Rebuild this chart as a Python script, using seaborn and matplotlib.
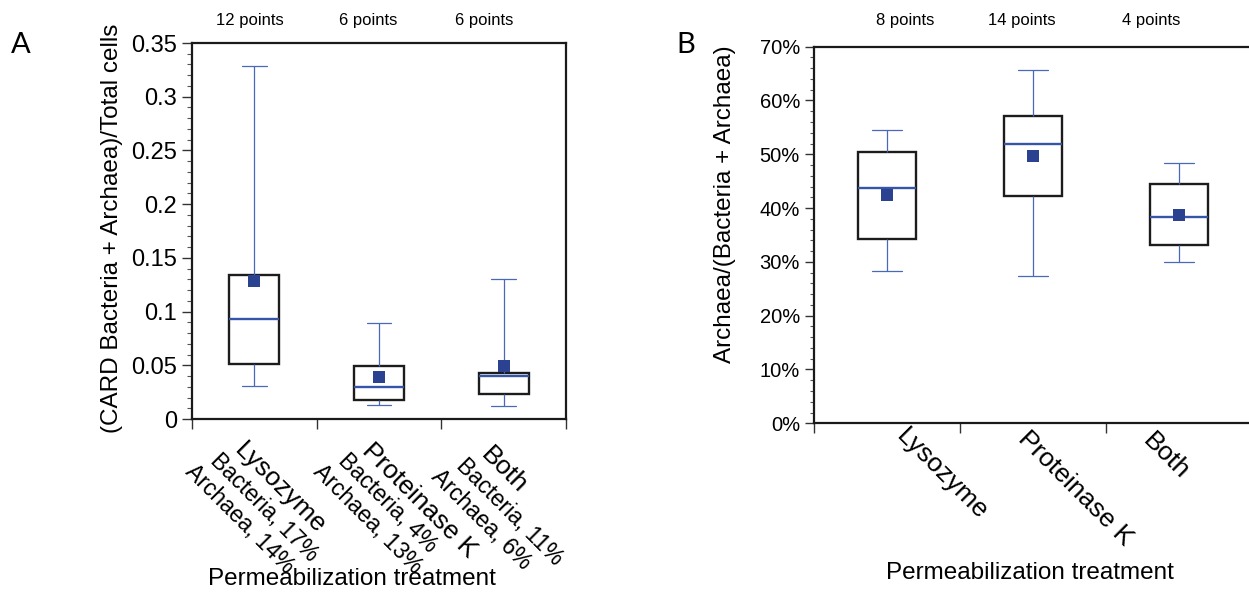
import numpy as np
import pandas as pd
import matplotlib
matplotlib.use("Agg")
import matplotlib.pyplot as plt
from matplotlib.ticker import FixedLocator, FuncFormatter, PercentFormatter, MultipleLocator
import seaborn as sns

# ---------------- data ----------------
# Panel A
a_categories = ["Lysozyme", "Proteinase K", "Both"]
a_sublabels = [["Bacteria, 17%", "Archaea, 14%"],
               ["Bacteria, 4%", "Archaea, 13%"],
               ["Bacteria, 11%", "Archaea, 6%"]]
a_whisker_low = [0.0304, 0.0127, 0.0124]
a_q1 = [0.051, 0.018, 0.0233]
a_median = [0.0934, 0.030, 0.0403]
a_q3 = [0.134, 0.049, 0.043]
a_whisker_high = [0.329, 0.0897, 0.1306]
a_mean = [0.1286, 0.039, 0.0497]
a_counts = ["12 points", "6 points", "6 points"]
a_yticks = [0, 0.05, 0.1, 0.15, 0.2, 0.25, 0.3, 0.35]

# Panel B
b_categories = ["Lysozyme", "Proteinase K", "Both"]
b_whisker_low = [0.284, 0.274, 0.299]
b_q1 = [0.343, 0.422, 0.331]
b_median = [0.438, 0.519, 0.384]
b_q3 = [0.504, 0.572, 0.445]
b_whisker_high = [0.545, 0.657, 0.484]
b_mean = [0.424, 0.497, 0.388]
b_counts = ["8 points", "14 points", "4 points"]
b_yticks = [0, 0.1, 0.2, 0.3, 0.4, 0.5, 0.6, 0.7]

# ---------------- style ----------------
sns.set_style("ticks")
plt.rcParams["font.family"] = ["Liberation Sans", "DejaVu Sans"]
plt.rcParams["text.color"] = "black"
plt.rcParams["axes.labelcolor"] = "black"
plt.rcParams["xtick.labelcolor"] = "black"
plt.rcParams["ytick.labelcolor"] = "black"

BOX_EDGE = "#1c1c1c"
WHISKER = "#4a68b8"
MEDIAN = "#3556a8"
MEAN = "#2b4291"
PX = 72 / 100.0  # pixels -> points


def long_frame(cats, lo, q1, med, q3, hi):
    rows = []
    for i, c in enumerate(cats):
        for v in (lo[i], q1[i], med[i], q3[i], hi[i]):
            rows.append({"treatment": c, "value": v})
    return pd.DataFrame(rows)


def draw_panel(ax, cats, lo, q1, med, q3, hi, means):
    df = long_frame(cats, lo, q1, med, q3, hi)
    sns.boxplot(data=df, x="treatment", y="value", order=cats, ax=ax,
                width=0.4, whis=(0, 100), color="white", linecolor=BOX_EDGE,
                linewidth=1.7, fliersize=0, saturation=1,
                whiskerprops=dict(color=WHISKER, linewidth=0.9),
                capprops=dict(color=WHISKER, linewidth=0.9),
                medianprops=dict(color=MEDIAN, linewidth=1.7))
    sns.pointplot(x=cats, y=means, order=cats, ax=ax, errorbar=None,
                  linestyle="none", marker="s", markersize=9.2,
                  markeredgewidth=0, color=MEAN, zorder=6)
    ax.set_xlim(-0.5, len(cats) - 0.5)
    ax.set_xticks(range(len(cats)))
    ax.set_xticklabels([])
    ax.xaxis.set_minor_locator(FixedLocator(np.arange(-0.5, len(cats), 1.0)))
    ax.tick_params(axis="x", which="major", length=0)
    ax.tick_params(axis="x", which="minor", length=7.5, width=1.0, color="#333333", direction="out")
    for s in ax.spines.values():
        s.set_linewidth(1.6)
        s.set_color("#1a1a1a")
        s.set_visible(True)
    ax.set_facecolor("white")


fig = plt.figure(figsize=(12.49, 5.97), dpi=100)
fig.patch.set_facecolor("white")

axA = fig.add_axes([192 / 1249, 1 - 419 / 597, 374 / 1249, 376 / 597])
axB = fig.add_axes([814 / 1249, 1 - 423.3 / 597, 438 / 1249, 376.6 / 597])

draw_panel(axA, a_categories, a_whisker_low, a_q1, a_median, a_q3, a_whisker_high, a_mean)
draw_panel(axB, b_categories, b_whisker_low, b_q1, b_median, b_q3, b_whisker_high, b_mean)

# ---- panel A axis ----
axA.set_ylim(0, 0.35)
axA.set_yticks(a_yticks)
axA.yaxis.set_major_formatter(FuncFormatter(lambda v, p: f"{v:g}"))
axA.yaxis.set_minor_locator(MultipleLocator(0.01))
axA.tick_params(axis="y", which="major", length=7, width=1.0, pad=3.6, labelsize=17, color="#333333")
axA.tick_params(axis="y", which="minor", length=3.6, width=0.8, color="#555555")
axA.set_ylabel("(CARD Bacteria + Archaea)/Total cells", fontsize=17.5)
axA.yaxis.set_label_coords(-0.184, 0.508)
axA.set_xlabel("Permeabilization treatment", fontsize=17.5)
axA.xaxis.set_label_coords(0.428, -0.396)

# ---- panel B axis ----
axB.set_ylim(0, 0.7)
axB.set_yticks(b_yticks)
axB.yaxis.set_major_formatter(PercentFormatter(1.0, decimals=0))
axB.yaxis.set_minor_locator(MultipleLocator(0.02))
axB.tick_params(axis="y", which="major", length=6.5, width=1.0, pad=3.6, labelsize=14.5, color="#333333")
axB.tick_params(axis="y", which="minor", length=3.0, width=0.8, color="#555555")
axB.set_ylabel("Archaea/(Bacteria + Archaea)", fontsize=17.5)
axB.yaxis.set_label_coords(-0.178, 0.583)
axB.set_xlabel("Permeabilization treatment", fontsize=17.5)
axB.xaxis.set_label_coords(0.493, -0.368)

# ---- rotated category labels ----
a_label_dx = [-7.5, -4.5, -10.5]   # px, anchor of first line
a_label_dy = [-19.5, -19.5, -24.0]
line_step = (-25.0, -11.0)         # px per following line
for i, cat in enumerate(a_categories):
    lines = [cat] + a_sublabels[i]
    for k, txt in enumerate(lines):
        dx = (a_label_dx[i] + k * line_step[0]) * PX
        dy = (a_label_dy[i] + k * line_step[1]) * PX
        axA.annotate(txt, xy=(i, 0), xycoords=("data", "axes fraction"),
                     xytext=(dx, dy), textcoords="offset points",
                     rotation=-45, rotation_mode="anchor", ha="left", va="top",
                     fontsize=19 if k == 0 else 16.5, annotation_clip=False)

b_label_dx = [21.5, -2.5, -23.5]
b_label_dy = [-1.0, -3.5, -5.5]
for i, cat in enumerate(b_categories):
    axB.annotate(cat, xy=(i, 0), xycoords=("data", "axes fraction"),
                 xytext=(b_label_dx[i] * PX, b_label_dy[i] * PX), textcoords="offset points",
                 rotation=-45, rotation_mode="anchor", ha="left", va="top",
                 fontsize=19, annotation_clip=False)

# ---- counts above panels ----
a_count_dx = [-4, -11, -19]
b_count_dx = [18, -11, -28]
for i, t in enumerate(a_counts):
    axA.annotate(t, xy=(i, 1), xycoords=("data", "axes fraction"),
                 xytext=(a_count_dx[i] * PX, 22 * PX), textcoords="offset points",
                 ha="center", va="center", fontsize=12, annotation_clip=False)
for i, t in enumerate(b_counts):
    axB.annotate(t, xy=(i, 1), xycoords=("data", "axes fraction"),
                 xytext=(b_count_dx[i] * PX, 25.7 * PX), textcoords="offset points",
                 ha="center", va="center", fontsize=12, annotation_clip=False)

# ---- panel letters ----
fig.text(11 / 1249, 1 - 53 / 597, "A", fontsize=21, family=["Lato", "DejaVu Sans"], ha="left", va="baseline")
fig.text(676 / 1249, 1 - 53 / 597, "B", fontsize=21, family=["Lato", "DejaVu Sans"], ha="left", va="baseline")

fig.savefig("out.png", dpi=100, facecolor="white")
